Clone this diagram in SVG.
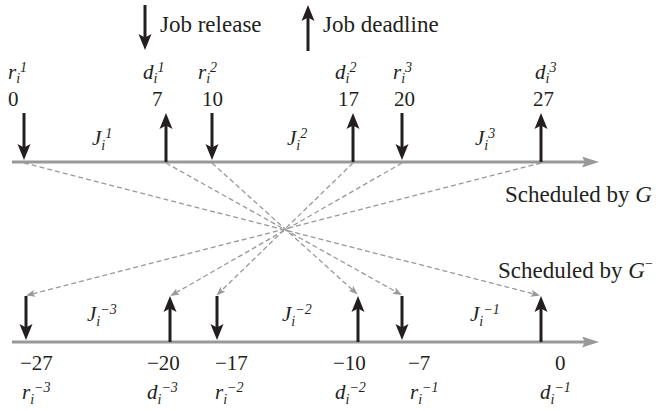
<svg xmlns="http://www.w3.org/2000/svg" width="658" height="411" viewBox="0 0 658 411">
<style>
text{font-family:"Liberation Serif","Times New Roman",serif;fill:#231f20}
.n{font-size:21px}
.v{font-size:21px;font-style:italic}
.s{font-size:14px}
.lg{font-size:23px}
.ar{stroke:#231f20;stroke-width:3;fill:none}
.ax{stroke:#999;stroke-width:3.2;fill:none}
.ds{stroke:#999;stroke-width:1.3;stroke-dasharray:5 3;fill:none}
</style>
<defs>
<marker id="ah" markerUnits="userSpaceOnUse" markerWidth="16" markerHeight="14" viewBox="0 0 16 14" refX="8" refY="7" orient="auto">
<path d="M0,0.5 L16,7 L0,13.5 L3.5,7 Z" fill="#231f20"/>
</marker>
<marker id="gah" markerUnits="userSpaceOnUse" markerWidth="17" markerHeight="11" viewBox="0 0 17 11" refX="9" refY="5.5" orient="auto">
<path d="M0,0 L17,5.5 L0,11 L3,5.5 Z" fill="#999"/>
</marker>
<marker id="dah" markerUnits="userSpaceOnUse" markerWidth="9" markerHeight="7" viewBox="0 0 9 7" refX="7" refY="3.5" orient="auto">
<path d="M0,0 L9,3.5 L0,7 L2,3.5 Z" fill="#999"/>
</marker>
</defs>

<g id="legend">
<line class="ar" x1="145" y1="5" x2="145" y2="42" marker-end="url(#ah)"/>
<text class="lg" x="160" y="32">Job release</text>
<line class="ar" x1="308" y1="51" x2="308" y2="13" marker-end="url(#ah)"/>
<text class="lg" x="323" y="32">Job deadline</text>
</g>

<g id="axes">
<line class="ax" x1="12" y1="162" x2="591" y2="162" marker-end="url(#gah)"/>
<line class="ax" x1="12" y1="342" x2="591" y2="342" marker-end="url(#gah)"/>
<text class="lg" x="505" y="202">Scheduled by <tspan font-style="italic">G</tspan></text>
<text class="lg" x="498" y="278">Scheduled by <tspan font-style="italic">G</tspan><tspan class="s" dy="-10">−</tspan></text>
</g>

<g id="connectors">
<line class="ds" x1="24" y1="163" x2="538" y2="295" marker-end="url(#dah)"/>
<line class="ds" x1="166" y1="163" x2="400" y2="294" marker-end="url(#dah)"/>
<line class="ds" x1="212" y1="163" x2="356" y2="293" marker-end="url(#dah)"/>
<line class="ds" x1="353" y1="163" x2="218" y2="294" marker-end="url(#dah)"/>
<line class="ds" x1="402" y1="163" x2="172" y2="295" marker-end="url(#dah)"/>
<line class="ds" x1="541" y1="163" x2="28" y2="295" marker-end="url(#dah)"/>
</g>

<!-- top timeline -->
<g id="r1">
<line class="ar" x1="24" y1="113" x2="24" y2="152" marker-end="url(#ah)"/>
<text class="v" x="8" y="79">r<tspan class="s" dy="4">i</tspan><tspan class="s" dy="-11">1</tspan></text>
<text class="n" x="8" y="106">0</text>
</g>
<g id="d1">
<line class="ar" x1="166" y1="162" x2="166" y2="121" marker-end="url(#ah)"/>
<text class="v" x="143" y="79">d<tspan class="s" dy="4">i</tspan><tspan class="s" dy="-11">1</tspan></text>
<text class="n" x="152" y="106">7</text>
</g>
<g id="r2">
<line class="ar" x1="212" y1="113" x2="212" y2="152" marker-end="url(#ah)"/>
<text class="v" x="198" y="79">r<tspan class="s" dy="4">i</tspan><tspan class="s" dy="-11">2</tspan></text>
<text class="n" x="202" y="106">10</text>
</g>
<g id="d2">
<line class="ar" x1="353" y1="162" x2="353" y2="121" marker-end="url(#ah)"/>
<text class="v" x="335" y="79">d<tspan class="s" dy="4">i</tspan><tspan class="s" dy="-11">2</tspan></text>
<text class="n" x="338" y="106">17</text>
</g>
<g id="r3">
<line class="ar" x1="402" y1="113" x2="402" y2="152" marker-end="url(#ah)"/>
<text class="v" x="393" y="79">r<tspan class="s" dy="4">i</tspan><tspan class="s" dy="-11">3</tspan></text>
<text class="n" x="394" y="106">20</text>
</g>
<g id="d3">
<line class="ar" x1="541" y1="162" x2="541" y2="121" marker-end="url(#ah)"/>
<text class="v" x="535" y="79">d<tspan class="s" dy="4">i</tspan><tspan class="s" dy="-11">3</tspan></text>
<text class="n" x="533" y="106">27</text>
</g>
<g id="jobs-top">
<text class="v" x="92" y="145">J<tspan class="s" dy="5">i</tspan><tspan class="s" dy="-12">1</tspan></text>
<text class="v" x="287" y="145">J<tspan class="s" dy="5">i</tspan><tspan class="s" dy="-12">2</tspan></text>
<text class="v" x="475" y="145">J<tspan class="s" dy="5">i</tspan><tspan class="s" dy="-12">3</tspan></text>
</g>

<!-- bottom timeline -->
<g id="rm3">
<line class="ar" x1="26" y1="296" x2="26" y2="332" marker-end="url(#ah)"/>
<text class="n" x="20" y="370">−27</text>
<text class="v" x="22" y="399">r<tspan class="s" dy="5">i</tspan><tspan class="s" dy="-12">−3</tspan></text>
</g>
<g id="dm3">
<line class="ar" x1="170" y1="342" x2="170" y2="304" marker-end="url(#ah)"/>
<text class="n" x="147" y="370">−20</text>
<text class="v" x="147" y="399">d<tspan class="s" dy="5">i</tspan><tspan class="s" dy="-12">−3</tspan></text>
</g>
<g id="rm2">
<line class="ar" x1="217" y1="296" x2="217" y2="332" marker-end="url(#ah)"/>
<text class="n" x="215" y="370">−17</text>
<text class="v" x="215" y="399">r<tspan class="s" dy="5">i</tspan><tspan class="s" dy="-12">−2</tspan></text>
</g>
<g id="dm2">
<line class="ar" x1="358" y1="342" x2="358" y2="304" marker-end="url(#ah)"/>
<text class="n" x="333" y="370">−10</text>
<text class="v" x="335" y="399">d<tspan class="s" dy="5">i</tspan><tspan class="s" dy="-12">−2</tspan></text>
</g>
<g id="rm1">
<line class="ar" x1="402" y1="296" x2="402" y2="332" marker-end="url(#ah)"/>
<text class="n" x="408" y="370">−7</text>
<text class="v" x="410" y="399">r<tspan class="s" dy="5">i</tspan><tspan class="s" dy="-12">−1</tspan></text>
</g>
<g id="dm1">
<line class="ar" x1="541" y1="342" x2="541" y2="304" marker-end="url(#ah)"/>
<text class="n" x="555" y="370">0</text>
<text class="v" x="540" y="399">d<tspan class="s" dy="5">i</tspan><tspan class="s" dy="-12">−1</tspan></text>
</g>
<g id="jobs-bottom">
<text class="v" x="87" y="321">J<tspan class="s" dy="5">i</tspan><tspan class="s" dy="-12">−3</tspan></text>
<text class="v" x="282" y="321">J<tspan class="s" dy="5">i</tspan><tspan class="s" dy="-12">−2</tspan></text>
<text class="v" x="470" y="321">J<tspan class="s" dy="5">i</tspan><tspan class="s" dy="-12">−1</tspan></text>
</g>
</svg>
